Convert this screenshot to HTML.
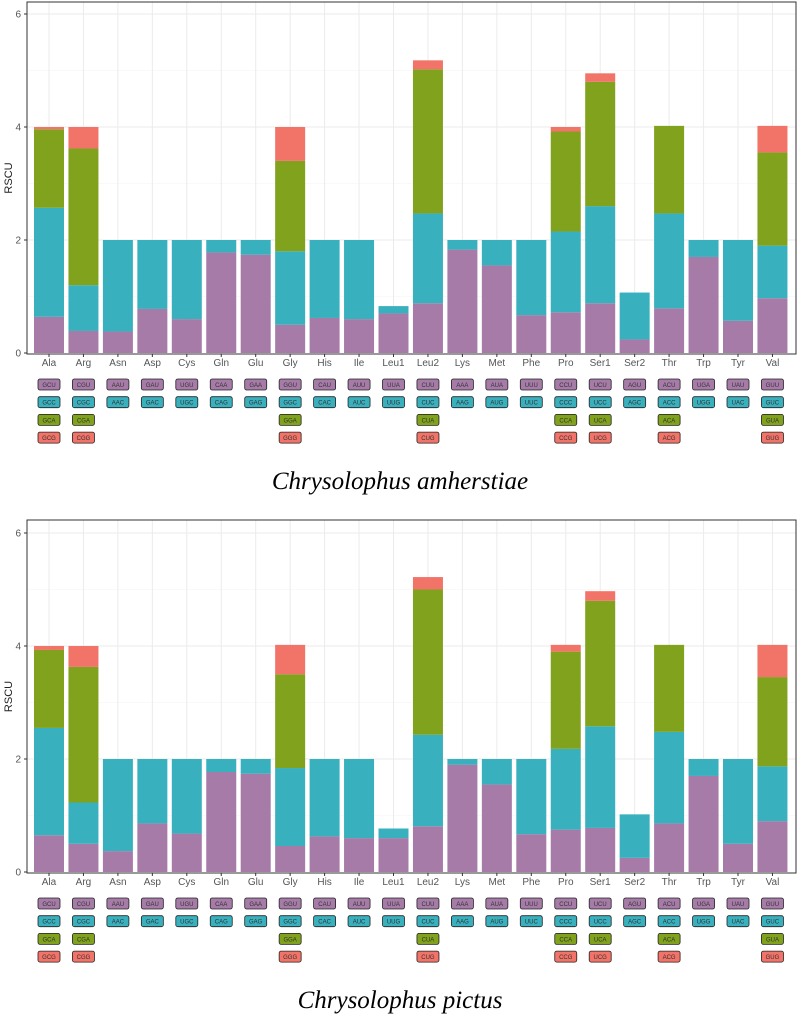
<!DOCTYPE html>
<html><head><meta charset="utf-8"><style>
html,body{margin:0;padding:0;background:#fff;width:800px;height:1016px;overflow:hidden}
svg text{font-family:"Liberation Sans",sans-serif}
</style></head><body>
<svg id="fig" width="800" height="1016" viewBox="0 0 800 1016" xmlns="http://www.w3.org/2000/svg"></svg>
<script>
const aminoAcids=["Ala","Arg","Asn","Asp","Cys","Gln","Glu","Gly","His","Ile","Leu1","Leu2","Lys","Met","Phe","Pro","Ser1","Ser2","Thr","Trp","Tyr","Val"];
const codons=[["GCU","GCC","GCA","GCG"],["CGU","CGC","CGA","CGG"],["AAU","AAC"],["GAU","GAC"],["UGU","UGC"],["CAA","CAG"],["GAA","GAG"],["GGU","GGC","GGA","GGG"],["CAU","CAC"],["AUU","AUC"],["UUA","UUG"],["CUU","CUC","CUA","CUG"],["AAA","AAG"],["AUA","AUG"],["UUU","UUC"],["CCU","CCC","CCA","CCG"],["UCU","UCC","UCA","UCG"],["AGU","AGC"],["ACU","ACC","ACA","ACG"],["UGA","UGG"],["UAU","UAC"],["GUU","GUC","GUA","GUG"]];
const rscuAmherstiae=[[0.64,1.93,1.39,0.04],[0.39,0.81,2.42,0.38],[0.38,1.62],[0.78,1.22],[0.6,1.4],[1.78,0.22],[1.74,0.26],[0.5,1.3,1.6,0.6],[0.62,1.38],[0.6,1.4],[0.7,0.13],[0.88,1.59,2.55,0.16],[1.83,0.17],[1.55,0.45],[0.67,1.33],[0.72,1.43,1.77,0.08],[0.88,1.72,2.2,0.15],[0.24,0.83],[0.79,1.68,1.55,0],[1.7,0.3],[0.57,1.43],[0.97,0.93,1.65,0.47]];
const rscuPictus=[[0.65,1.9,1.38,0.07],[0.5,0.73,2.4,0.37],[0.37,1.63],[0.86,1.14],[0.68,1.32],[1.77,0.23],[1.74,0.26],[0.46,1.38,1.66,0.52],[0.63,1.37],[0.6,1.4],[0.6,0.17],[0.81,1.62,2.57,0.22],[1.9,0.1],[1.55,0.45],[0.67,1.33],[0.75,1.43,1.72,0.12],[0.78,1.8,2.22,0.17],[0.25,0.77],[0.86,1.62,1.54,0],[1.7,0.3],[0.5,1.5],[0.9,0.97,1.58,0.57]];
const yTicks=[0,2,4,6];
const colors=["#A67BA8","#38B0BE","#80A21C","#F27368"];
const svg=document.getElementById('fig');
const NS="http://www.w3.org/2000/svg";
function mk(tag,attrs,parent){const e=document.createElementNS(NS,tag);for(const k in attrs)e.setAttribute(k,attrs[k]);(parent||svg).appendChild(e);return e;}
function panel(top,zeroY,data,title,key){
  const g=mk('g',{});
  
  
  const left=27,right=796,bottom=zeroY+1,upt=56.5;
  const yScale=v=>zeroY-v*upt;
  const xScale=i=>49+i*34.45;
  mk('rect',{x:left,y:top,width:right-left,height:bottom-top,fill:'#fff'},g);
  for(let v=1;v<=6;v++){const l=mk('line',{x1:left,x2:right,y1:yScale(v),y2:yScale(v),stroke:v%2?'#f3f3f3':'#ebebeb','stroke-width':v%2?0.6:1},g);}
  aminoAcids.forEach((a,i)=>{mk('line',{x1:xScale(i),x2:xScale(i),y1:top,y2:bottom,stroke:'#ebebeb','stroke-width':1},g);});
  aminoAcids.forEach((a,i)=>{
    let cum=0;
    data[i].forEach((v,j)=>{
      if(v<=0)return;
      const r=mk('rect',{x:xScale(i)-15,y:yScale(cum+v),width:30,height:v*upt,fill:colors[j]},g);
      
      
      cum+=v;
    });
    const t=mk('text',{x:xScale(i),y:bottom+12,'font-size':10,fill:'#555','text-anchor':'middle'},g);
    t.textContent=a;
    
    
    mk('line',{x1:xScale(i),x2:xScale(i),y1:bottom,y2:bottom+3,stroke:'#333'},g);
    codons[i].forEach((c,j)=>{
      const cy=bottom+25+j*17.7;
      const b=mk('rect',{x:xScale(i)-11,y:cy,width:22,height:11,rx:2,fill:colors[j],stroke:'#222','stroke-width':0.8},g);
      
      
      const ct=mk('text',{x:xScale(i),y:cy+8,'font-size':6,fill:'#333','text-anchor':'middle'},g);
      ct.textContent=c;
    });
  });
  mk('rect',{x:left,y:top,width:right-left,height:bottom-top,fill:'none',stroke:'#333','stroke-width':1},g);
  yTicks.forEach(v=>{
    mk('line',{x1:left-3,x2:left,y1:yScale(v),y2:yScale(v),stroke:'#333'},g);
    const t=mk('text',{x:left-6,y:yScale(v)+3.5,'font-size':10,fill:'#555','text-anchor':'end'},g);
    t.textContent=v;
    
    
  });
  const yt=mk('text',{x:12,y:(top+bottom)/2,'font-size':11,fill:'#222','text-anchor':'middle',transform:`rotate(-90 12 ${(top+bottom)/2})`},g);
  yt.textContent='RSCU';
  
  
  const tt=mk('text',{x:400,y:bottom+135,'font-size':25,'font-style':'italic','text-anchor':'middle',fill:'#000'},g);
  tt.setAttribute('style','font-family:"Liberation Serif",serif');
  tt.textContent=title;
  
  
}
panel(2,353,rscuAmherstiae,'Chrysolophus amherstiae','amherstiae');
panel(520,872,rscuPictus,'Chrysolophus pictus','pictus');
</script>
</body></html>
